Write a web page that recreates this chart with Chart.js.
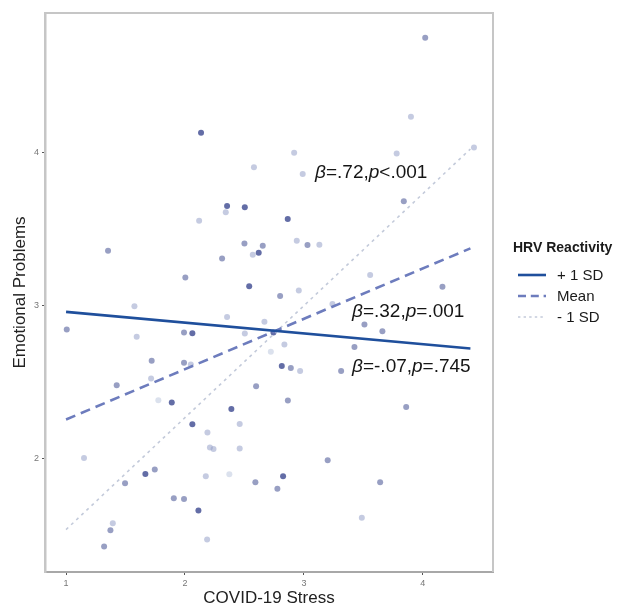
<!DOCTYPE html>
<html lang="en">
<head>
    <meta charset="UTF-8">
    <title>Emotional Problems by COVID-19 Stress</title>
    <script src="https://cdn.jsdelivr.net/npm/chart.js"></script>
    <style>
        body {
            margin: 0;
            background: #ffffff;
        }
        #wrap {
            width: 621px;
            height: 607px;
        }
    </style>
</head>
<body>
    <div id="wrap"><canvas id="chart" width="621" height="607"></canvas></div>
    <script>
        // tick labels
        const xTicks = [1, 2, 3, 4];
        const yTicks = [2, 3, 4];

        // simple slopes (HRV reactivity +1 SD / mean / -1 SD)
        const lineX = [1, 4.4];
        const plusSD = [2.956, 2.717];
        const meanLine = [2.253, 3.371];
        const minusSD = [1.534, 4.02];

        // observations, grouped by shade
        const darkX = [2.354, 2.503, 2.864, 2.54, 2.62, 1.889, 2.062, 2.113, 2.825, 2.744, 2.135, 2.062, 2.814, 1.667, 2.39];
        const darkY = [3.647, 3.639, 3.562, 3.124, 3.342, 2.364, 2.222, 1.658, 1.882, 2.822, 4.126, 2.817, 2.603, 1.897, 2.322];

        const midX = [1.353, 2.50, 2.654, 2.312, 3.03, 2.003, 4.165, 2.80, 3.84, 1.006, 1.992, 1.72, 1.992, 1.426, 2.598, 1.746,
            1.496, 2.592, 1.906, 1.992, 1.373, 1.32, 3.509, 3.66, 3.425, 2.89, 3.313, 2.865, 3.86, 3.20, 2.777, 3.641, 4.02];
        const midY = [3.355, 3.403, 3.388, 3.305, 3.392, 3.18, 3.12, 3.059, 3.678, 2.841, 2.822, 2.636, 2.623, 2.477, 2.471, 1.926,
            1.837, 1.843, 1.739, 1.734, 1.529, 1.423, 2.874, 2.83, 2.727, 2.59, 2.569, 2.377, 2.335, 1.987, 1.80, 1.843, 4.746];

        const lightX = [3.90, 2.918, 3.78, 2.58, 2.99, 2.343, 2.119, 2.57, 2.94, 3.13, 3.557, 2.957, 1.575, 1.594, 2.354, 2.503,
            2.049, 1.715, 2.668, 2.836, 2.968, 2.46, 2.189, 2.21, 2.24, 2.46, 1.151, 2.175, 1.393, 2.186, 3.487, 3.24, 4.43];
        const lightY = [4.23, 3.995, 3.99, 3.90, 3.856, 3.606, 3.551, 3.329, 3.42, 3.394, 3.196, 3.096, 2.993, 2.793, 2.923, 2.815,
            2.612, 2.521, 2.891, 2.743, 2.569, 2.224, 2.168, 2.07, 2.06, 2.063, 2.002, 1.882, 1.575, 1.469, 1.612, 3.007, 4.03];

        const paleX = [1.776, 2.373, 2.722];
        const paleY = [2.379, 1.895, 2.695];

        // beta labels: [x, y, beta, p]
        const betaLabels = [
            [3.094, 3.863, '=.72,', '<.001'],
            [3.405, 2.954, '=.32,', '=.001'],
            [3.405, 2.595, '=-.07,', '=.745']
        ];

        const legendItems = ['+ 1 SD', 'Mean', '- 1 SD'];

        const font = '"Liberation Sans", Arial, sans-serif';

        function pts(xs, ys) {
            return xs.map((x, i) => ({ x: x, y: ys[i] }));
        }

        const lineStyles = [
            { color: '#1f4f9c', width: 2.6, dash: [] },
            { color: '#6d7cbd', width: 2.6, dash: [10, 6] },
            { color: '#c3cada', width: 1.6, dash: [3, 4] }
        ];

        function lineSet(ys, style, label) {
            return {
                label: label,
                data: pts(lineX, ys),
                showLine: true,
                pointRadius: 0,
                borderColor: style.color,
                borderWidth: style.width,
                borderDash: style.dash,
                fill: false,
                order: 0
            };
        }

        function pointSet(xs, ys, color) {
            return {
                data: pts(xs, ys),
                pointRadius: 3,
                pointBorderWidth: 0,
                backgroundColor: color,
                borderColor: color,
                order: 1
            };
        }

        // panel border, legend and beta labels
        const extras = {
            id: 'extras',
            beforeDatasetsDraw(chart) {
                const a = chart.chartArea;
                const ctx = chart.ctx;
                ctx.save();
                ctx.strokeStyle = '#c6c6c6';
                ctx.lineWidth = 2;
                ctx.beginPath();
                ctx.moveTo(a.left, a.top);
                ctx.lineTo(a.right, a.top);
                ctx.lineTo(a.right, a.bottom);
                ctx.stroke();
                ctx.restore();
            },
            afterDatasetsDraw(chart) {
                const ctx = chart.ctx;
                const xs = chart.scales.x, ys = chart.scales.y;
                ctx.save();
                ctx.fillStyle = '#151515';
                ctx.textBaseline = 'middle';
                betaLabels.forEach(b => {
                    let px = xs.getPixelForValue(b[0]);
                    const py = ys.getPixelForValue(b[1]);
                    const parts = [['β', true], [b[2], false], ['p', true], [b[3], false]];
                    parts.forEach(p => {
                        ctx.font = (p[1] ? 'italic ' : '') + '19px ' + font;
                        ctx.fillText(p[0], px, py);
                        px += ctx.measureText(p[0]).width;
                    });
                });

                // legend
                ctx.fillStyle = '#1a1a1a';
                ctx.font = 'bold 14px ' + font;
                ctx.fillText('HRV Reactivity', 513, 248);
                legendItems.forEach((label, i) => {
                    const y = 275 + i * 21;
                    const s = lineStyles[i];
                    ctx.strokeStyle = s.color;
                    ctx.lineWidth = s.width;
                    ctx.setLineDash(s.dash.map(d => d * 0.8));
                    ctx.beginPath();
                    ctx.moveTo(518, y);
                    ctx.lineTo(546, y);
                    ctx.stroke();
                    ctx.setLineDash([]);
                    ctx.font = '15px ' + font;
                    ctx.fillText(label, 557, y + 1);
                });
                ctx.restore();
            }
        };

        new Chart(document.getElementById('chart'), {
            type: 'scatter',
            data: {
                datasets: [
                    lineSet(plusSD, lineStyles[0], '+ 1 SD'),
                    lineSet(meanLine, lineStyles[1], 'Mean'),
                    lineSet(minusSD, lineStyles[2], '- 1 SD'),
                    pointSet(darkX, darkY, 'rgba(72, 84, 150, 0.85)'),
                    pointSet(midX, midY, 'rgba(112, 122, 172, 0.72)'),
                    pointSet(lightX, lightY, 'rgba(150, 160, 200, 0.55)'),
                    pointSet(paleX, paleY, 'rgba(190, 200, 222, 0.55)')
                ]
            },
            options: {
                responsive: false,
                animation: false,
                layout: { padding: { left: 0, top: 13, right: 128, bottom: 0 } },
                plugins: {
                    legend: { display: false },
                    tooltip: { enabled: false }
                },
                scales: {
                    x: {
                        type: 'linear',
                        min: 0.823,
                        max: 4.59,
                        afterBuildTicks: s => { s.ticks = xTicks.map(v => ({ value: v })); },
                        afterFit: s => { s.height = 35; },
                        grid: { drawOnChartArea: false, drawTicks: true, tickLength: 3, color: '#555' },
                        border: { display: true, color: '#a8a8a8', width: 2 },
                        ticks: { font: { size: 9, family: font }, color: '#777', padding: 3 },
                        title: {
                            display: true,
                            text: 'COVID-19 Stress',
                            color: '#222',
                            font: { size: 17, family: font, lineHeight: 1 },
                            padding: { top: 0, bottom: 0 }
                        }
                    },
                    y: {
                        type: 'linear',
                        min: 1.257,
                        max: 4.908,
                        afterBuildTicks: s => { s.ticks = yTicks.map(v => ({ value: v })); },
                        afterFit: s => { s.width = 45; },
                        grid: { drawOnChartArea: false, drawTicks: true, tickLength: 3, color: '#555' },
                        border: { display: true, color: '#c6c6c6', width: 2.5 },
                        ticks: { font: { size: 9, family: font }, color: '#777', padding: 3 },
                        title: {
                            display: true,
                            text: 'Emotional Problems',
                            color: '#222',
                            font: { size: 17, family: font, lineHeight: 1 },
                            padding: { top: 12, bottom: 0 }
                        }
                    }
                }
            },
            plugins: [extras]
        });
    </script>
</body>
</html>
